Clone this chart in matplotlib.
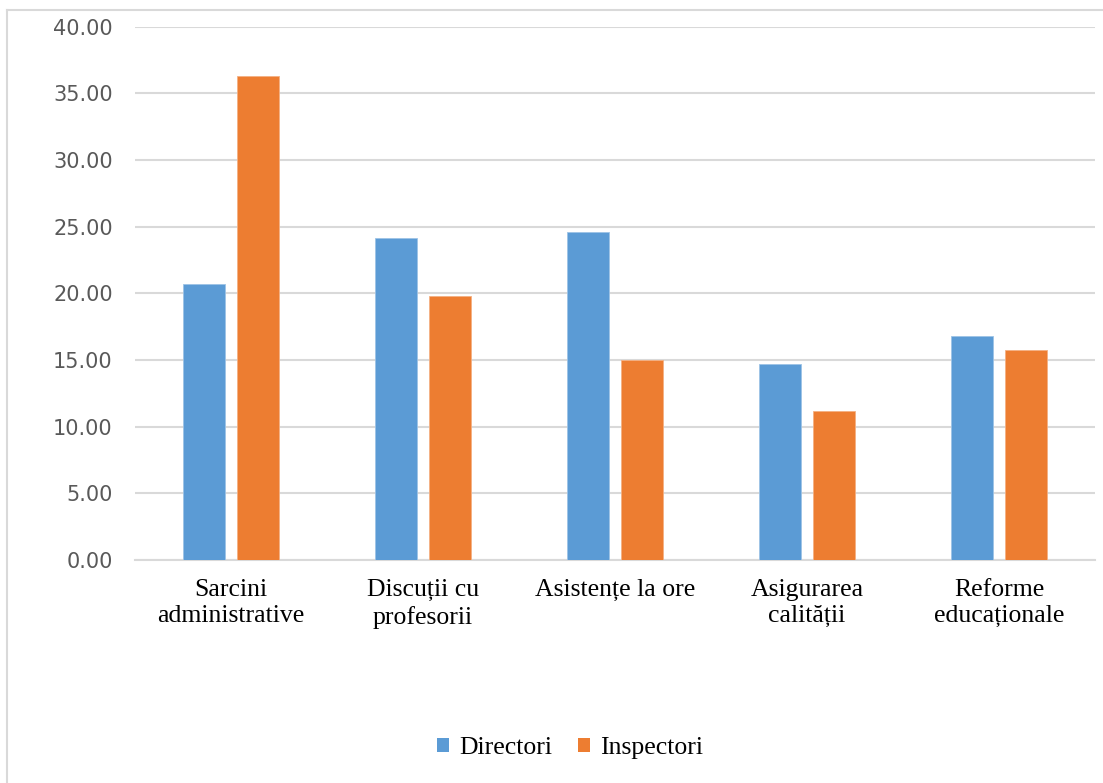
import matplotlib
matplotlib.use("Agg")
import matplotlib.pyplot as plt
import numpy as np
from matplotlib.lines import Line2D
from matplotlib.patches import Patch

categories = ["Sarcini\nadministrative", "Discuții cu\nprofesorii", "Asistențe la ore",
              "Asigurarea\ncalității", "Reforme\neducaționale"]
directori = [20.68, 24.13, 24.58, 14.68, 16.80]
inspectori = [36.30, 19.80, 14.98, 11.20, 15.73]
series_names = ["Directori", "Inspectori"]
yticks = [0, 5, 10, 15, 20, 25, 30, 35, 40]

blue = "#5B9BD5"
orange = "#ED7D31"
grid = "#D9D9D9"

W, H = 1103, 783
fig = plt.figure(figsize=(W / 100, H / 100), dpi=100)
ax = fig.add_axes([135 / W, 1 - 560 / H, (1095 - 135) / W, (560 - 26.7) / H])

x = np.arange(len(categories))
bw = 0.219
off = bw / 2 + 0.031
ax.bar(x - off, directori, bw, color=blue, edgecolor="#9DC3E6", linewidth=0.6, zorder=3)
ax.bar(x + off, inspectori, bw, color=orange, edgecolor="#F4B183", linewidth=0.6, zorder=3)

ax.set_xlim(-0.5, len(categories) - 0.5)
ax.set_ylim(0, 40)
ax.set_yticks(yticks)
ax.set_yticklabels([f"{v:.2f}" for v in yticks], fontfamily="DejaVu Sans",
                   fontsize=15, color="#595959")
ax.yaxis.grid(True, color=grid, linewidth=1.5, zorder=0)
ax.set_axisbelow(True)
ax.tick_params(axis="y", length=0, pad=16)
ax.set_xticks(x)
ax.set_xticklabels(categories, fontfamily="Liberation Serif", fontsize=18.5,
                   color="black", linespacing=1.27)
ax.tick_params(axis="x", length=0, pad=13.5)
for s in ["top", "right", "left"]:
    ax.spines[s].set_visible(False)
ax.spines["bottom"].set_color(grid)
ax.spines["bottom"].set_linewidth(1.5)

# outer chart frame
fig.add_artist(Line2D([7 / W, 1.0], [1 - 10 / H, 1 - 10 / H], transform=fig.transFigure,
                      color=grid, linewidth=1.5))
fig.add_artist(Line2D([7 / W, 7 / W], [0, 1 - 10 / H], transform=fig.transFigure,
                      color=grid, linewidth=1.5))

handles = [Patch(facecolor=blue, edgecolor="none"), Patch(facecolor=orange, edgecolor="none")]
fig.legend(handles, series_names, loc="center", bbox_to_anchor=(570 / W, 1 - 748 / H),
           ncol=2, frameon=False, handlelength=0.47, handleheight=0.47, handletextpad=0.4,
           columnspacing=1.0, prop={"family": "Liberation Serif", "size": 18.5})

fig.savefig("out.png", dpi=100, facecolor="white")
